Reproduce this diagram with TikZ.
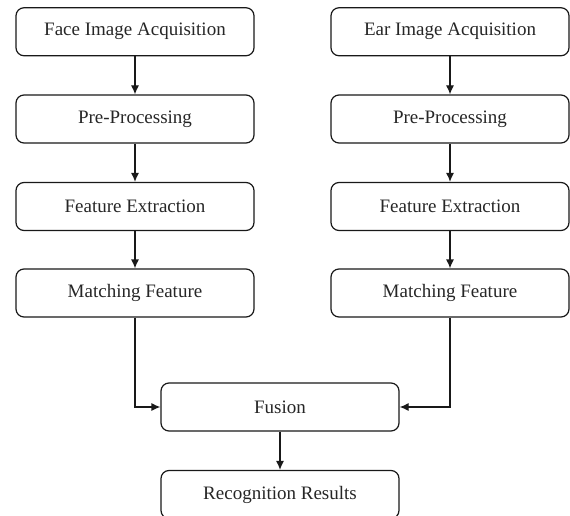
\documentclass[tikz,border=0pt]{standalone}
\usepackage{fontspec}
\setmainfont{Liberation Serif}
\usetikzlibrary{arrows.meta}
\begin{document}
\begin{tikzpicture}[x=1pt,y=-1pt,
  box/.style={draw=black!90, line width=1.2pt, rounded corners=8pt, minimum width=238pt, minimum height=48pt, inner sep=0pt, font=\fontsize{19}{22}\selectfont, text=black!85},
  conn/.style={draw=black!90, line width=1.2pt, -{Latex[length=9pt,width=8pt]}}]
\useasboundingbox (0,0) rectangle (570,516);
\node[box] (f1) at (135,31.75) {Face Image Acquisition};
\node[box] (f2) at (135,119) {Pre-Processing};
\node[box] (f3) at (135,206.5) {Feature Extraction};
\node[box] (f4) at (135,293) {Matching Feature};
\node[box] (e1) at (450,31.75) {Ear Image Acquisition};
\node[box] (e2) at (450,119) {Pre-Processing};
\node[box] (e3) at (450,206.5) {Feature Extraction};
\node[box] (e4) at (450,293) {Matching Feature};
\node[box] (fu) at (280,407) {Fusion};
\node[box] (rr) at (280,494.5) {Recognition Results};
\draw[conn] (f1) -- (f2);
\draw[conn] (f2) -- (f3);
\draw[conn] (f3) -- (f4);
\draw[conn] (e1) -- (e2);
\draw[conn] (e2) -- (e3);
\draw[conn] (e3) -- (e4);
\draw[conn] (f4.south) |- (fu.west);
\draw[conn] (e4.south) |- (fu.east);
\draw[conn] (fu) -- (rr);
\end{tikzpicture}
\end{document}
